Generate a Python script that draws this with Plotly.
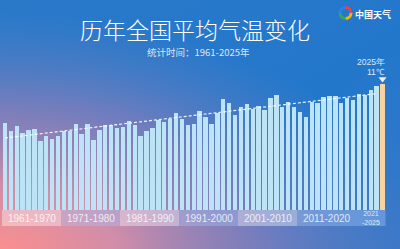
import base64, math
import plotly.graph_objects as go

years = list(range(1961, 2026))
temps = [9.69, 9.44, 9.60, 9.38, 9.46, 9.50, 9.11, 9.28, 9.17, 9.27,
         9.43, 9.42, 9.68, 9.33, 9.67, 9.14, 9.48, 9.63, 9.63, 9.54,
         9.57, 9.77, 9.63, 9.27, 9.43, 9.53, 9.79, 9.74, 9.84, 10.04,
         9.84, 9.62, 9.66, 10.10, 9.91, 9.68, 10.02, 10.49, 10.37, 9.97,
         10.22, 10.32, 10.17, 10.27, 10.13, 10.52, 10.62, 10.22, 10.40, 10.22,
         10.06, 9.89, 10.41, 10.38, 10.57, 10.59, 10.59, 10.36, 10.55, 10.47,
         10.67, 10.65, 10.79, 10.92, 11.00]
trend_years = [1961, 2024]
trend_vals = [9.20, 10.68]
decade_labels = ["1961-1970", "1971-1980", "1981-1990", "1991-2000",
                 "2001-2010", "2011-2020", "2021<br>-2025"]
decade_spans = [(1961, 1970), (1971, 1980), (1981, 1990), (1991, 2000),
                (2001, 2010), (2011, 2020), (2021, 2025)]
highlight_year = 2025
highlight_label = "11℃"

BASE = 6.8
BAND_BOTTOM = 6.2667
bar_colors = ["#bde3f6"] * (len(years) - 1) + ["#f6d3a0"]

# ---- background SVG (decoration) ----
def arc(cx, cy, r, a0, a1):
    x0, y0 = cx + r * math.cos(math.radians(a0)), cy + r * math.sin(math.radians(a0))
    x1, y1 = cx + r * math.cos(math.radians(a1)), cy + r * math.sin(math.radians(a1))
    return f"M{x0:.2f},{y0:.2f} A{r},{r} 0 0 1 {x1:.2f},{y1:.2f}"

logo = ""
for (a0, a1, col) in [(-90, 0, "#e8453c"), (0, 90, "#f4b400"), (90, 180, "#34a853"), (180, 270, "#2f7ee6")]:
    logo += f"<path d='{arc(345.5, 13, 5.5, a0, a1)}' stroke='{col}' stroke-width='3' fill='none'/>"

svg = f"""<svg xmlns='http://www.w3.org/2000/svg' width='400' height='249' viewBox='0 0 400 249'>
<defs>
<linearGradient id='g1' x1='0' y1='0' x2='1' y2='1'>
<stop offset='0' stop-color='#2a79c9'/>
<stop offset='0.6' stop-color='#2377cb'/>
<stop offset='1' stop-color='#3a78c8'/>
</linearGradient>
<radialGradient id='g2' gradientUnits='userSpaceOnUse' cx='0' cy='255' r='420' gradientTransform='translate(0,255) scale(1,0.58) translate(0,-255)'>
<stop offset='0' stop-color='#ff8f8c' stop-opacity='1'/>
<stop offset='0.28' stop-color='#e08fa6' stop-opacity='0.92'/>
<stop offset='0.62' stop-color='#9c80b6' stop-opacity='0.65'/>
<stop offset='1' stop-color='#6a80c0' stop-opacity='0'/>
</radialGradient>
</defs>
<rect width='400' height='249' fill='url(#g1)'/>
<rect width='400' height='249' fill='url(#g2)'/>
{logo}
</svg>"""
bg_uri = "data:image/svg+xml;base64," + base64.b64encode(svg.encode()).decode()

fig = go.Figure()
fig.add_trace(go.Bar(
    x=years, y=[t - BASE for t in temps], base=BASE, width=0.76,
    marker=dict(color=bar_colors, line=dict(width=0)), hoverinfo="skip"))
fig.add_trace(go.Scatter(
    x=trend_years, y=trend_vals, mode="lines",
    line=dict(color="rgba(255,255,255,0.9)", width=1.2, dash="3px,2px"), hoverinfo="skip"))
fig.add_trace(go.Scatter(
    x=[highlight_year], y=[temps[-1] + 0.17], mode="markers",
    marker=dict(symbol="triangle-down", size=7, color="#f4ecdc"), hoverinfo="skip"))

shapes = []
annotations = []
for i, ((a, b), lab) in enumerate(zip(decade_spans, decade_labels)):
    col = "rgba(255,255,255,0.38)" if i % 2 == 0 else "rgba(165,200,250,0.38)"
    if i == 6:
        col = "rgba(165,200,250,0.38)"
    shapes.append(dict(type="rect", xref="x", yref="y", x0=a - 0.5, x1=b + 0.5,
                       y0=BAND_BOTTOM, y1=BASE, fillcolor=col, line=dict(width=0), layer="below"))
    annotations.append(dict(x=(a + b) / 2, y=(BASE + BAND_BOTTOM) / 2, xref="x", yref="y",
                            text=lab, showarrow=False,
                            font=dict(family="Liberation Sans", size=7 if i == 6 else 10,
                                      color="rgba(255,255,255,0.8)"),
                            xanchor="center", yanchor="middle"))

annotations += [
    dict(x=0.4875, y=1 - 29 / 249, xref="paper", yref="paper", text="历年全国平均气温变化",
         showarrow=False, font=dict(family="Noto Sans CJK SC", size=23, color="white", weight=300),
         xanchor="center", yanchor="middle"),
    dict(x=0.497, y=1 - 52 / 249, xref="paper", yref="paper", text="统计时间：1961-2025年",
         showarrow=False, font=dict(family="Noto Sans CJK SC", size=9.5, color="rgba(255,255,255,0.85)"),
         xanchor="center", yanchor="middle"),
    dict(x=393 / 400, y=1 - 14 / 249, xref="paper", yref="paper", text="<b>中国天气</b>",
         showarrow=False, font=dict(family="Noto Sans CJK SC", size=9, color="white"),
         xanchor="right", yanchor="middle"),
    dict(x=387 / 400, y=1 - 62 / 249, xref="paper", yref="paper", text=f"{highlight_year}年",
         showarrow=False, font=dict(family="Liberation Sans", size=8.5, color="rgba(255,255,255,0.85)"),
         xanchor="right", yanchor="middle"),
    dict(x=387 / 400, y=1 - 72 / 249, xref="paper", yref="paper", text=highlight_label,
         showarrow=False, font=dict(family="Liberation Sans", size=8.5, color="rgba(255,255,255,0.85)"),
         xanchor="right", yanchor="middle"),
]

fig.update_layout(
    width=400, height=249, margin=dict(l=0, r=0, t=0, b=0),
    paper_bgcolor="#2a78c8", plot_bgcolor="rgba(0,0,0,0)",
    showlegend=False, bargap=0,
    xaxis=dict(range=[1960.161, 2027.958], visible=False, fixedrange=True),
    yaxis=dict(range=[5.5, 13.8], visible=False, fixedrange=True),
    shapes=shapes, annotations=annotations,
    images=[dict(source=bg_uri, xref="paper", yref="paper", x=0, y=1, sizex=1, sizey=1,
                 xanchor="left", yanchor="top", sizing="stretch", layer="below")],
)
fig.write_html("out.html")
